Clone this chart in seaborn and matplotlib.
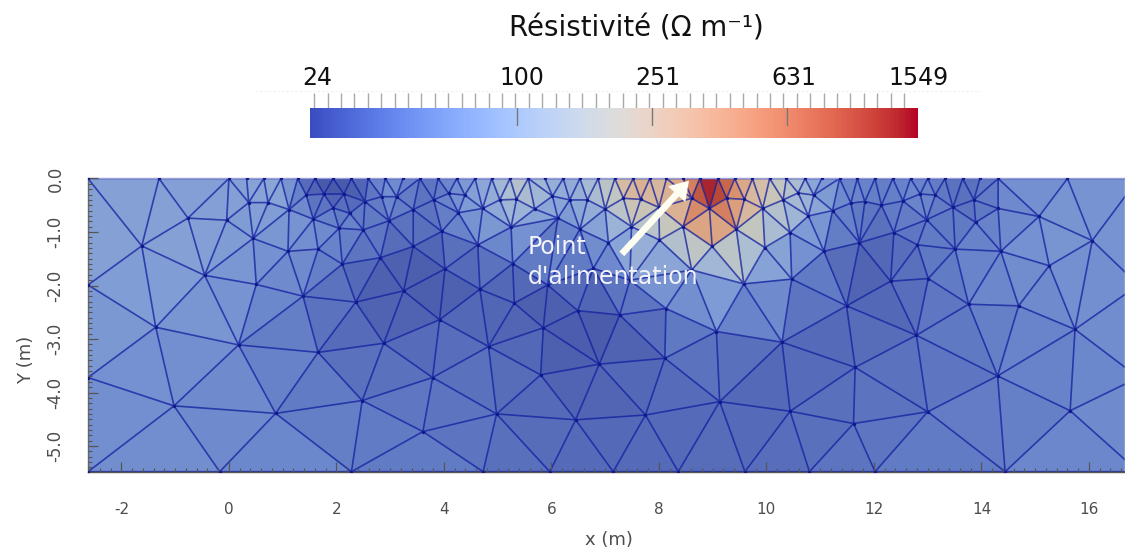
import numpy as np
import seaborn as sns
import matplotlib
matplotlib.use("Agg")
import matplotlib.pyplot as plt
import matplotlib.tri as mtri
from matplotlib.cm import ScalarMappable
from matplotlib.colors import Normalize
from matplotlib.lines import Line2D

# --- data: mesh nodes (x in m, y in m) and resistivity at each node (ohm m) ---
surface_x = [-2.62, -1.30, 0.0, 0.33, 0.65, 0.97, 1.28, 1.6, 1.94, 2.28, 2.59, 2.91, 3.24, 3.55, 3.89, 4.24,
             4.58, 4.89, 5.23, 5.57, 5.88, 6.22, 6.53, 6.87, 7.18, 7.52, 7.83, 8.14, 8.45, 8.76, 9.10, 9.41,
             9.74, 10.06, 10.37, 10.72, 11.03, 11.36, 11.69, 12.02, 12.35, 12.68, 13.0, 13.32, 13.65, 13.97,
             14.31, 15.6, 16.92]
surface_rho = [66, 66, 66, 68, 72, 76, 36, 27, 26, 27, 34, 53, 46, 37, 41, 53,
               70, 86, 140, 140, 86, 86, 86, 157, 237, 360, 360, 292, 360, 1549, 1549, 546,
               292, 237, 157, 86, 53, 46, 45, 42, 42, 45, 40, 37, 35, 35,
               47, 54, 56]

bottom_x = [-2.62, -0.17, 2.28, 4.73, 5.97, 7.15, 8.36, 9.6, 10.80, 12.02, 14.44, 16.92]
bottom_rho = [51, 51, 44, 36, 34, 32, 34, 34, 36, 38, 44, 50]

shallow_x = [-0.76, -0.04, 0.37, 0.73, 1.12, 1.44, 1.77, 2.14, 2.53, 1.94, 2.25, 1.57, 2.05, 2.50, 2.98, 2.84,
             3.12, 3.43, 3.81, 4.09, 4.39, 4.27, 3.96, 4.72, 5.04, 5.35, 5.25, 5.69, 6.02, 6.34, 6.12, 6.53,
             6.67, 7.0, 7.34, 7.66, 8.0, 7.49, 8.45, 8.61, 8.94, 9.26, 9.59, 9.44, 9.93, 10.31, 10.59, 10.88,
             10.78, 10.44, 11.23, 11.57, 11.83, 12.14, 12.54, 12.86, 13.14, 12.98, 13.47, 13.86, 13.89, 14.31,
             15.07, 16.06]
shallow_y = [-0.74, -0.78, -0.45, -0.45, -0.58, -0.31, -0.29, -0.29, -0.43, -0.55, -0.65, -0.76, -0.93, -0.96, -0.79, -0.34,
             -0.34, -0.58, -0.40, -0.28, -0.31, -0.64, -0.99, -0.56, -0.40, -0.39, -0.91, -0.57, -0.33, -0.40, -0.74, -0.95,
             -0.40, -0.57, -0.37, -0.39, -0.54, -0.90, -0.90, -0.37, -0.56, -0.37, -0.39, -0.95, -0.56, -0.40, -0.27, -0.31,
             -0.70, -1.01, -0.60, -0.46, -0.43, -0.50, -0.42, -0.29, -0.31, -0.77, -0.54, -0.40, -0.82, -0.56,
             -0.71, -1.16]
shallow_rho = [66, 66, 66, 72, 64, 37, 27, 27, 32, 37, 41, 51, 46, 46, 41, 51,
               48, 37, 35, 46, 58, 58, 37, 70, 95, 140, 70, 86, 86, 74, 58, 53,
               103, 103, 237, 292, 237, 140, 292, 546, 1260, 828, 360, 292, 237, 157, 118, 86,
               78, 74, 58, 46, 45, 41, 45, 51, 45, 42, 35, 35, 41, 41,
               57, 57]

middle_x = [0.45, 1.10, 1.66, 2.11, 2.82, 3.43, 4.63, 4.02, 5.28, 5.93, 6.78, 7.06, 8.01, 8.99, 9.97, 8.61,
            7.46, 9.58, 10.47, 11.07, 11.73, 12.37, 12.81, 13.51, 14.36, 15.26, 12.31, 13.01, -1.62, -0.45, 0.51, 1.38,
            2.36, 3.25, 4.67, 5.31, -2.62, 16.92, 8.13, 7.27, 6.49, 11.49, 13.76, 14.69]
middle_y = [-1.12, -1.36, -1.32, -1.60, -1.48, -1.27, -1.24, -1.69, -1.59, -1.99, -1.68, -1.20, -1.15, -1.27, -1.29, -1.71,
            -1.90, -1.97, -1.88, -1.36, -1.20, -1.01, -1.24, -1.32, -1.36, -1.63, -1.92, -1.87, -1.26, -1.81, -1.98, -2.20,
            -2.31, -2.10, -2.07, -2.33, -1.99, -1.99, -2.43, -2.55, -2.47, -2.38, -2.35, -2.38]
middle_rho = [58, 53, 51, 36, 30, 30, 41, 27, 37, 30, 41, 58, 103, 193, 90, 83,
              46, 70, 51, 41, 30, 35, 37, 42, 50, 54, 30, 37, 68, 66, 51, 42,
              30, 27, 30, 28, 66, 53, 42, 27, 27, 30, 42, 47]

deep_x = [-1.36, 0.18, 1.66, 2.88, 3.92, 5.85, 4.83, 6.89, 8.11, 9.07, 10.29, 12.79, 11.65, 14.3, 15.74, -2.62,
          -1.02, 0.87, 2.48, 3.79, 5.80, 9.13, 4.98, 6.45, 7.75, 3.61, 10.44, 11.62, 13.0, 15.65, 16.92]
deep_y = [-2.78, -3.11, -3.25, -3.08, -2.64, -2.79, -3.14, -3.47, -3.36, -2.86, -3.06, -2.93, -3.53, -3.69, -2.82, -3.72,
          -4.25, -4.39, -4.15, -3.72, -3.67, -4.17, -4.40, -4.51, -4.42, -4.73, -4.35, -4.58, -4.36, -4.34, -3.72]
deep_rho = [58, 48, 37, 32, 30, 28, 35, 27, 35, 40, 32, 35, 35, 40, 47, 53,
            51, 46, 37, 37, 31, 32, 34, 32, 32, 40, 32, 36, 38, 45, 50]

bar_tick_values = [24, 100, 251, 631, 1549]
bar_tick_labels = ["24", "100", "251", "631", "1549"]
x_tick_values = [-2, 0, 2, 4, 6, 8, 10, 12, 14, 16]
y_tick_values = [0, -1, -2, -3, -4, -5]

# --- build ---
sns.set_theme(style="ticks")
node_x = np.array(surface_x + bottom_x + shallow_x + middle_x + deep_x, dtype=float)
node_y = np.array([0.0] * len(surface_x) + [-5.48] * len(bottom_x) + shallow_y + middle_y + deep_y, dtype=float)
node_rho = np.array(surface_rho + bottom_rho + shallow_rho + middle_rho + deep_rho, dtype=float)

W, H = 1125, 552
fig = plt.figure(figsize=(W / 100, H / 100), dpi=100, facecolor="white")
cmap = sns.color_palette("coolwarm", as_cmap=True)
norm = Normalize(np.log10(24.4), np.log10(1542))

# --- mesh panel ---
ax = fig.add_axes([88 / W, 1 - 471.7 / H, (W - 88) / W, (471.7 - 178.5) / H])
ax.set_facecolor("#70703c")
ax.set_axisbelow(False)
tri = mtri.Triangulation(node_x, node_y)
ax.tripcolor(tri, np.log10(node_rho), shading="flat", cmap=cmap, norm=norm, alpha=0.8, edgecolors="none")
ax.triplot(tri, color="#18249c", lw=1.2, alpha=0.8)
sns.scatterplot(x=node_x, y=node_y, color="#10188c", s=6, linewidth=0, ax=ax, legend=False, zorder=3)
ax.set_xlim(-2.62, 16.67)
ax.set_ylim(-5.48, 0)

grey = "#4d4d4d"
ax.set_xticks(x_tick_values)
ax.set_xticklabels([str(v) for v in x_tick_values], fontsize=11, color=grey)
ax.set_yticks(y_tick_values)
ax.set_yticklabels([f"{v:.1f}" for v in y_tick_values], fontsize=12, color=grey, rotation=90, va="center")
ax.set_xticks(np.arange(-2.6, 16.7, 0.2), minor=True)
ax.set_yticks(np.arange(-5.4, 0.01, 0.1), minor=True)
ax.tick_params(axis="both", which="major", direction="in", length=7, width=0.9, color="#555555")
ax.tick_params(axis="x", which="major", pad=22)
ax.tick_params(axis="y", which="major", pad=17)
ax.tick_params(axis="both", which="minor", direction="in", length=3, width=0.8, color="#555555")
ax.set_xlabel("x (m)", fontsize=13, color=grey)
ax.xaxis.set_label_coords((609 - 88) / (W - 88), (471.7 - 531) / (471.7 - 178.5))
ax.set_ylabel("Y (m)", fontsize=13, color=grey)
ax.yaxis.set_label_coords((35 - 88) / (W - 88), (471.7 - 360) / (471.7 - 178.5))
for side, col in (("left", "#666666"), ("bottom", "#555555"), ("top", "#9aa0d8"), ("right", "#ffffff")):
    ax.spines[side].set_color(col)
    ax.spines[side].set_linewidth(1.0)

ax.annotate("", xy=(8.56, -0.04), xytext=(7.31, -1.41),
            arrowprops=dict(arrowstyle="simple,head_length=1.1,head_width=1.4,tail_width=0.4",
                            color="#fdfdf2", lw=0, shrinkA=0, shrinkB=0))
ax.text(5.56, -1.28, "Point", color="#f2f2f8", fontsize=17, va="center", ha="left")
ax.text(5.56, -1.84, "d'alimentation", color="#f2f2f8", fontsize=17, va="center", ha="left")

# --- colour bar ---
cax = fig.add_axes([310 / W, 1 - 138 / H, 608 / W, 30 / H])
cbar = fig.colorbar(ScalarMappable(norm=norm, cmap=cmap), cax=cax, orientation="horizontal")
cbar.outline.set_visible(False)
cax.xaxis.set_ticks_position("top")
cax.set_xticks([])
cax.set_xticks(np.arange(1.40, 3.17, 0.0397), minor=True)
cax.tick_params(axis="x", which="minor", direction="out", length=11, width=1.0, color="#a8a8a8")
label_shift = [10, 5, 6, 7, 0]
for v, lab, dx in zip(bar_tick_values, bar_tick_labels, label_shift):
    cax.annotate(lab, xy=(np.log10(v), 1), xycoords=("data", "axes fraction"), xytext=(dx, 30),
                 textcoords="offset pixels", fontsize=17, color="#111111", ha="center", va="center",
                 annotation_clip=False)
for v in bar_tick_values[1:4]:
    cax.plot([np.log10(v)] * 2, [0.45, 1.0], color="#777777", lw=1.0, clip_on=False)
cax.set_ylim(0, 1)
cax.set_xlim(norm.vmin, norm.vmax)
fig.add_artist(Line2D([255 / W, 980 / W], [1 - 91 / H] * 2, color="#efefef", lw=0.8, ls=(0, (2, 2))))

fig.text(636 / W, 1 - 29 / H, "Résistivité (Ω m⁻¹)", fontsize=19.9, color="#111111", ha="center", va="center")

fig.savefig("out.png", dpi=100)
